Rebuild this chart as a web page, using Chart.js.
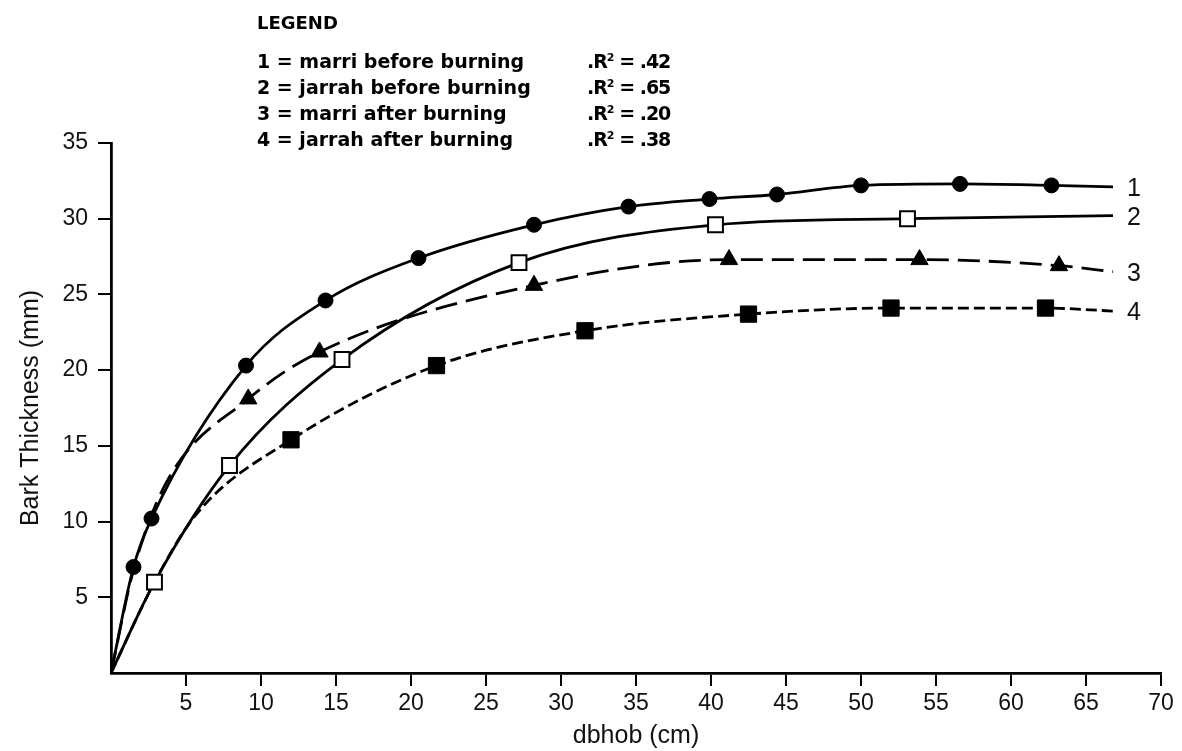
<!DOCTYPE html>
<html>
<head>
<meta charset="utf-8">
<script src="https://cdn.jsdelivr.net/npm/chart.js@4.4.1/dist/chart.umd.min.js"></script>
<style>
  html, body { margin: 0; padding: 0; background: #fff; }
  #wrap { position: relative; width: 1182px; height: 751px; }
  #legend { position: absolute; left: 257px; top: 10px; font-family: "DejaVu Sans", sans-serif; font-weight: bold; font-size: 19px; color: #000; }
  #legend .head { height: 38px; line-height: 26px; font-size: 18px; }
  #legend .row { height: 26px; line-height: 26px; white-space: nowrap; }
  #legend .name { display: inline-block; width: 330px; }
  #legend .r2 { letter-spacing: -1px; }
  #legend sup { font-size: 11px; vertical-align: 7px; line-height: 0; }
  .endlab { position: absolute; font-family: "Liberation Sans", sans-serif; font-size: 25px; color: #111; line-height: 24px; }
</style>
</head>
<body>
<div id="wrap">
  <canvas id="bark" width="1182" height="751"></canvas>
  <div id="legend"></div>
</div>
<script>
// axis ticks
const xTicks = [5, 10, 15, 20, 25, 30, 35, 40, 45, 50, 55, 60, 65, 70];
const yTicks = [5, 10, 15, 20, 25, 30, 35];

// legend text
const seriesNames = ['marri before burning', 'jarrah before burning', 'marri after burning', 'jarrah after burning'];
const rSquared = ['.42', '.65', '.20', '.38'];

// observed points (markers)
const m1X = [1.5, 2.7, 9.0, 14.3, 20.5, 28.2, 34.5, 39.9, 44.4, 50.0, 56.6, 62.7];
const m1Y = [7.0, 10.2, 20.3, 24.6, 27.4, 29.6, 30.8, 31.3, 31.6, 32.2, 32.3, 32.2];
const m2X = [2.9, 7.9, 15.4, 27.2, 40.3, 53.1];
const m2Y = [6.0, 13.7, 20.7, 27.1, 29.6, 30.0];
const m3X = [9.15, 13.9, 28.2, 41.2, 53.9, 63.2];
const m3Y = [18.1, 21.2, 25.6, 27.3, 27.3, 26.9];
const m4X = [12.0, 21.7, 31.6, 42.5, 52.0, 62.3];
const m4Y = [15.4, 20.3, 22.6, 23.7, 24.1, 24.1];

// fitted curves
const c1X = [0, 1.5, 2.7, 9.0, 14.3, 20.5, 28.2, 34.5, 39.9, 44.4, 50.0, 56.6, 62.7, 66.8];
const c1Y = [0, 7.0, 10.2, 20.3, 24.6, 27.4, 29.6, 30.8, 31.3, 31.6, 32.2, 32.3, 32.2, 32.1];
const c2X = [0, 2.9, 7.9, 15.4, 27.2, 40.3, 53.1, 66.8];
const c2Y = [0, 6.0, 13.7, 20.7, 27.1, 29.6, 30.0, 30.2];
const c3X = [0, 1.5, 3.7, 9.15, 13.9, 28.2, 41.2, 53.9, 63.2, 66.8];
const c3Y = [0, 6.8, 12.6, 18.1, 21.2, 25.6, 27.3, 27.3, 26.9, 26.5];
const c4X = [0, 2.9, 5.7, 12.0, 21.7, 31.6, 42.5, 52.0, 62.3, 66.8];
const c4Y = [0, 6.0, 10.5, 15.4, 20.3, 22.6, 23.7, 24.1, 24.1, 23.9];

const pts = (xs, ys) => xs.map((x, i) => ({x: x, y: ys[i]}));

// legend block
const legendEl = document.getElementById('legend');
let html = '<div class="head">LEGEND</div>';
seriesNames.forEach((n, i) => {
  html += '<div class="row"><span class="name">' + (i + 1) + ' = ' + n + '</span><span class="r2">.R<sup>2</sup> = ' + rSquared[i] + '</span></div>';
});
legendEl.innerHTML = html;

const curves = [[c1X, c1Y], [c2X, c2Y], [c3X, c3Y], [c4X, c4Y]];
const endLabels = curves.map((c, i) => {
  const d = document.createElement('div');
  d.className = 'endlab';
  d.textContent = String(i + 1);
  document.getElementById('wrap').appendChild(d);
  return d;
});

// puts the 1..4 labels just right of each curve end
const endLabelPlugin = {
  id: 'endLabelPlugin',
  afterRender(chart) {
    const xs = chart.scales.x, ys = chart.scales.y;
    curves.forEach((c, i) => {
      const n = c[0].length - 1;
      endLabels[i].style.left = (xs.getPixelForValue(c[0][n]) + 14) + 'px';
      endLabels[i].style.top = (ys.getPixelForValue(c[1][n]) - 12) + 'px';
    });
  }
};

const fontFam = '"Liberation Sans", sans-serif';

const curveDs = (data, dash) => ({
  type: 'line',
  data: data,
  borderColor: '#000',
  borderWidth: 2.8,
  borderDash: dash,
  pointRadius: 0,
  fill: false,
  cubicInterpolationMode: 'monotone',
  order: 2
});

new Chart(document.getElementById('bark'), {
  type: 'scatter',
  data: {
    datasets: [
      {data: pts(m1X, m1Y), pointStyle: 'circle', pointRadius: 7.5, backgroundColor: '#000', borderColor: '#000', order: 1},
      {data: pts(m2X, m2Y), pointStyle: 'rect', pointRadius: 10.5, backgroundColor: '#fff', borderColor: '#000', borderWidth: 2, order: 1},
      {data: pts(m3X, m3Y), pointStyle: 'triangle', pointRadius: 10, backgroundColor: '#000', borderColor: '#000', order: 1},
      {data: pts(m4X, m4Y), pointStyle: 'rect', pointRadius: 11.5, backgroundColor: '#000', borderColor: '#000', order: 1},
      curveDs(pts(c1X, c1Y), []),
      curveDs(pts(c2X, c2Y), []),
      curveDs(pts(c3X, c3Y), [22, 9]),
      curveDs(pts(c4X, c4Y), [11, 5])
    ]
  },
  options: {
    responsive: false,
    animation: false,
    layout: {padding: {top: 143, right: 21, left: 0, bottom: 0}},
    plugins: {
      legend: {display: false},
      tooltip: {enabled: false}
    },
    scales: {
      x: {
        type: 'linear',
        min: 0,
        max: 70,
        afterBuildTicks: s => { s.ticks = xTicks.map(v => ({value: v})); },
        afterFit: s => { s.height = 78; },
        grid: {drawOnChartArea: false, color: '#000', lineWidth: 2, tickLength: 13},
        border: {color: '#000', width: 2.8},
        ticks: {font: {family: fontFam, size: 23}, color: '#111', padding: 4, maxRotation: 0, autoSkip: false},
        title: {display: true, text: 'dbhob (cm)', font: {family: fontFam, size: 25}, color: '#111', padding: {top: 0, bottom: 0}}
      },
      y: {
        min: 0,
        max: 35,
        afterBuildTicks: s => { s.ticks = yTicks.map(v => ({value: v})); },
        afterFit: s => { s.width = 111; },
        grid: {drawOnChartArea: false, color: '#000', lineWidth: 2, tickLength: 13},
        border: {color: '#000', width: 2.8},
        ticks: {font: {family: fontFam, size: 23}, color: '#111', padding: 10},
        title: {display: true, text: 'Bark Thickness (mm)', font: {family: fontFam, size: 25}, color: '#111', padding: {top: 16, bottom: 0}}
      }
    }
  },
  plugins: [endLabelPlugin]
});
</script>
</body>
</html>
